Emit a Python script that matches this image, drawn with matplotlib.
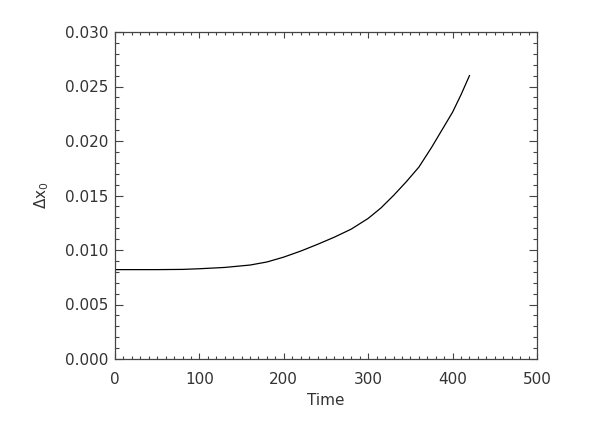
import matplotlib
matplotlib.use("Agg")
import matplotlib.pyplot as plt
from matplotlib.ticker import MultipleLocator, FormatStrFormatter

time = [0, 50, 80, 100, 130, 160, 180, 200, 220, 240, 260, 280, 300, 315, 330, 345,
        360, 375, 390, 400, 410, 420]
dx0 = [0.00820, 0.00820, 0.00822, 0.00828, 0.00840, 0.00862, 0.00890, 0.00935, 0.00990,
       0.01052, 0.01118, 0.01192, 0.01290, 0.01385, 0.01500, 0.01625, 0.01760, 0.01940,
       0.02135, 0.02265, 0.02425, 0.02600]

plt.rcParams['mathtext.default'] = 'regular'
plt.rcParams['font.family'] = ['DejaVu Sans']

fig = plt.figure(figsize=(5.89, 4.32), dpi=100)
ax = fig.add_axes([115/589, 1-359/432, (537-115)/589, (359-32)/432])

ax.plot(time, dx0, color='black', lw=0.9)
ax.set_xlim(0, 500)
ax.set_ylim(0, 0.030)
ax.xaxis.set_major_locator(MultipleLocator(100))
ax.xaxis.set_minor_locator(MultipleLocator(10))
ax.yaxis.set_major_locator(MultipleLocator(0.005))
ax.yaxis.set_minor_locator(MultipleLocator(0.001))
ax.yaxis.set_major_formatter(FormatStrFormatter('%.3f'))

tc = '#444444'
txt = '#333333'
ax.tick_params(axis='both', which='both', direction='in', top=True, right=True,
               colors=tc, labelcolor=txt, labelsize=11, width=0.8)
ax.tick_params(axis='x', which='major', length=4.5, pad=9)
ax.tick_params(axis='x', which='minor', length=2.2)
ax.tick_params(axis='y', which='major', length=6, pad=5)
ax.tick_params(axis='y', which='minor', length=3)
for s in ax.spines.values():
    s.set_color(tc)
    s.set_linewidth(0.9)

ax.set_xlabel('Time', fontsize=11, color=txt, labelpad=5)
ax.set_ylabel(r'$\Delta x_0$', fontsize=11, color=txt, labelpad=10)

fig.savefig('out.png', dpi=100)
